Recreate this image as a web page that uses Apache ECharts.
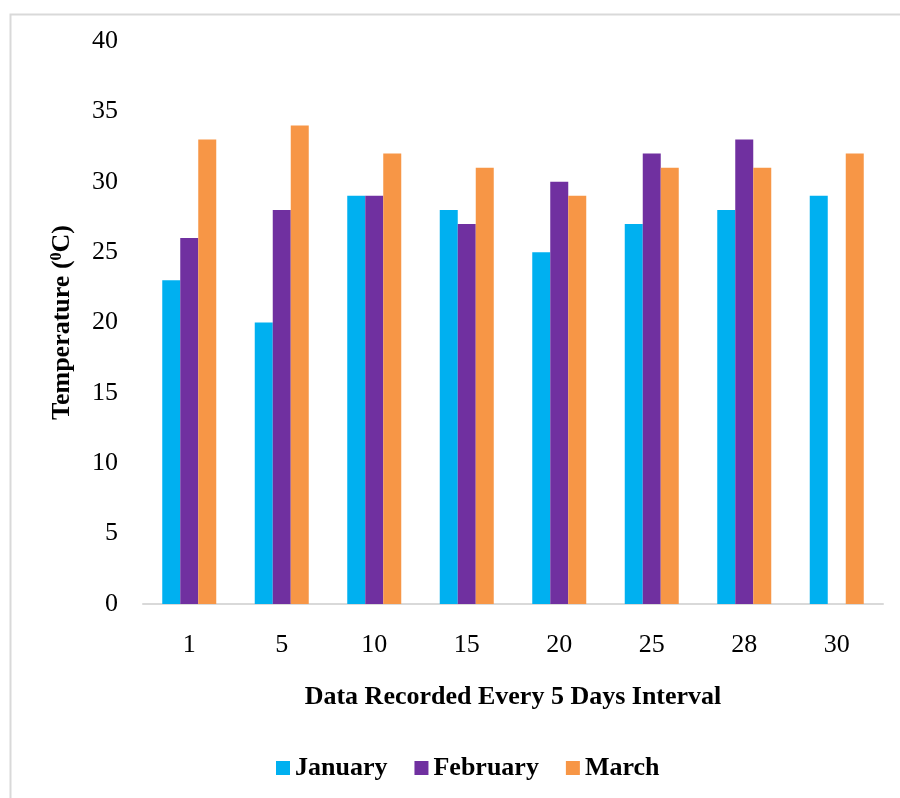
<!DOCTYPE html>
<html>
<head>
<meta charset="utf-8">
<script src="https://cdn.jsdelivr.net/npm/echarts@6/dist/echarts.min.js"></script>
<style>
  html, body { margin: 0; padding: 0; background: #fff; }
  #chart { width: 900px; height: 798px; }
</style>
</head>
<body>
<div id="chart"></div>
<script>
// Day of month on which each reading was taken
const days = ['1', '5', '10', '15', '20', '25', '28', '30'];

// Temperatures (°C) per month; February has no reading on day 30
const january  = [23, 20, 29, 28, 25, 27, 28, 29];
const february = [26, 28, 29, 27, 30, 32, 33, null];
const march    = [33, 34, 32, 31, 29, 31, 31, 32];

const monthNames = ['January', 'February', 'March'];
const monthColors = ['#00B0F0', '#7030A0', '#F79646'];

const font = 'Liberation Serif, Times New Roman, serif';

const chart = echarts.init(document.getElementById('chart'));

const seriesData = [january, february, march];

chart.setOption({
  animation: false,
  textStyle: { fontFamily: font },
  graphic: [{
    type: 'rect',
    left: 8, top: 12,
    shape: { width: 1000, height: 1000 },
    style: { fill: 'none', stroke: '#d9d9d9', lineWidth: 2 },
    silent: true
  }],
  grid: { left: 143, right: 17, top: 41, bottom: 194 },
  legend: {
    bottom: 12,
    left: 271,
    icon: 'rect',
    itemWidth: 14,
    itemHeight: 14,
    itemGap: 27,
    textStyle: { fontFamily: font, fontSize: 26, fontWeight: 'bold', color: '#000' },
    data: monthNames
  },
  xAxis: {
    type: 'category',
    data: days,
    name: 'Data Recorded Every 5 Days Interval',
    nameLocation: 'middle',
    nameGap: 80,
    nameTextStyle: { fontFamily: font, fontSize: 26, fontWeight: 'bold', color: '#000' },
    axisLine: { lineStyle: { color: '#d9d9d9', width: 2 } },
    axisTick: { show: false },
    axisLabel: { fontFamily: font, fontSize: 26, color: '#000', margin: 28 }
  },
  yAxis: {
    type: 'value',
    min: 0, max: 40, interval: 5,
    name: '{a|Temperature (}{s|0}{a|C)}',
    nameLocation: 'middle',
    nameGap: 68,
    nameTextStyle: {
      rich: {
        a: { fontFamily: font, fontSize: 26, fontWeight: 'bold', color: '#000' },
        s: { fontFamily: font, fontSize: 16, fontWeight: 'bold', color: '#000', verticalAlign: 'top', padding: [0, 0, 10, 0] }
      }
    },
    axisLine: { show: false },
    axisTick: { show: false },
    splitLine: { show: false },
    axisLabel: { fontFamily: font, fontSize: 26, color: '#000', margin: 25 }
  },
  series: seriesData.map((d, i) => ({
    name: monthNames[i],
    type: 'bar',
    data: d,
    barWidth: 18,
    barGap: '0%',
    itemStyle: { color: monthColors[i] }
  }))
});
</script>
</body>
</html>
